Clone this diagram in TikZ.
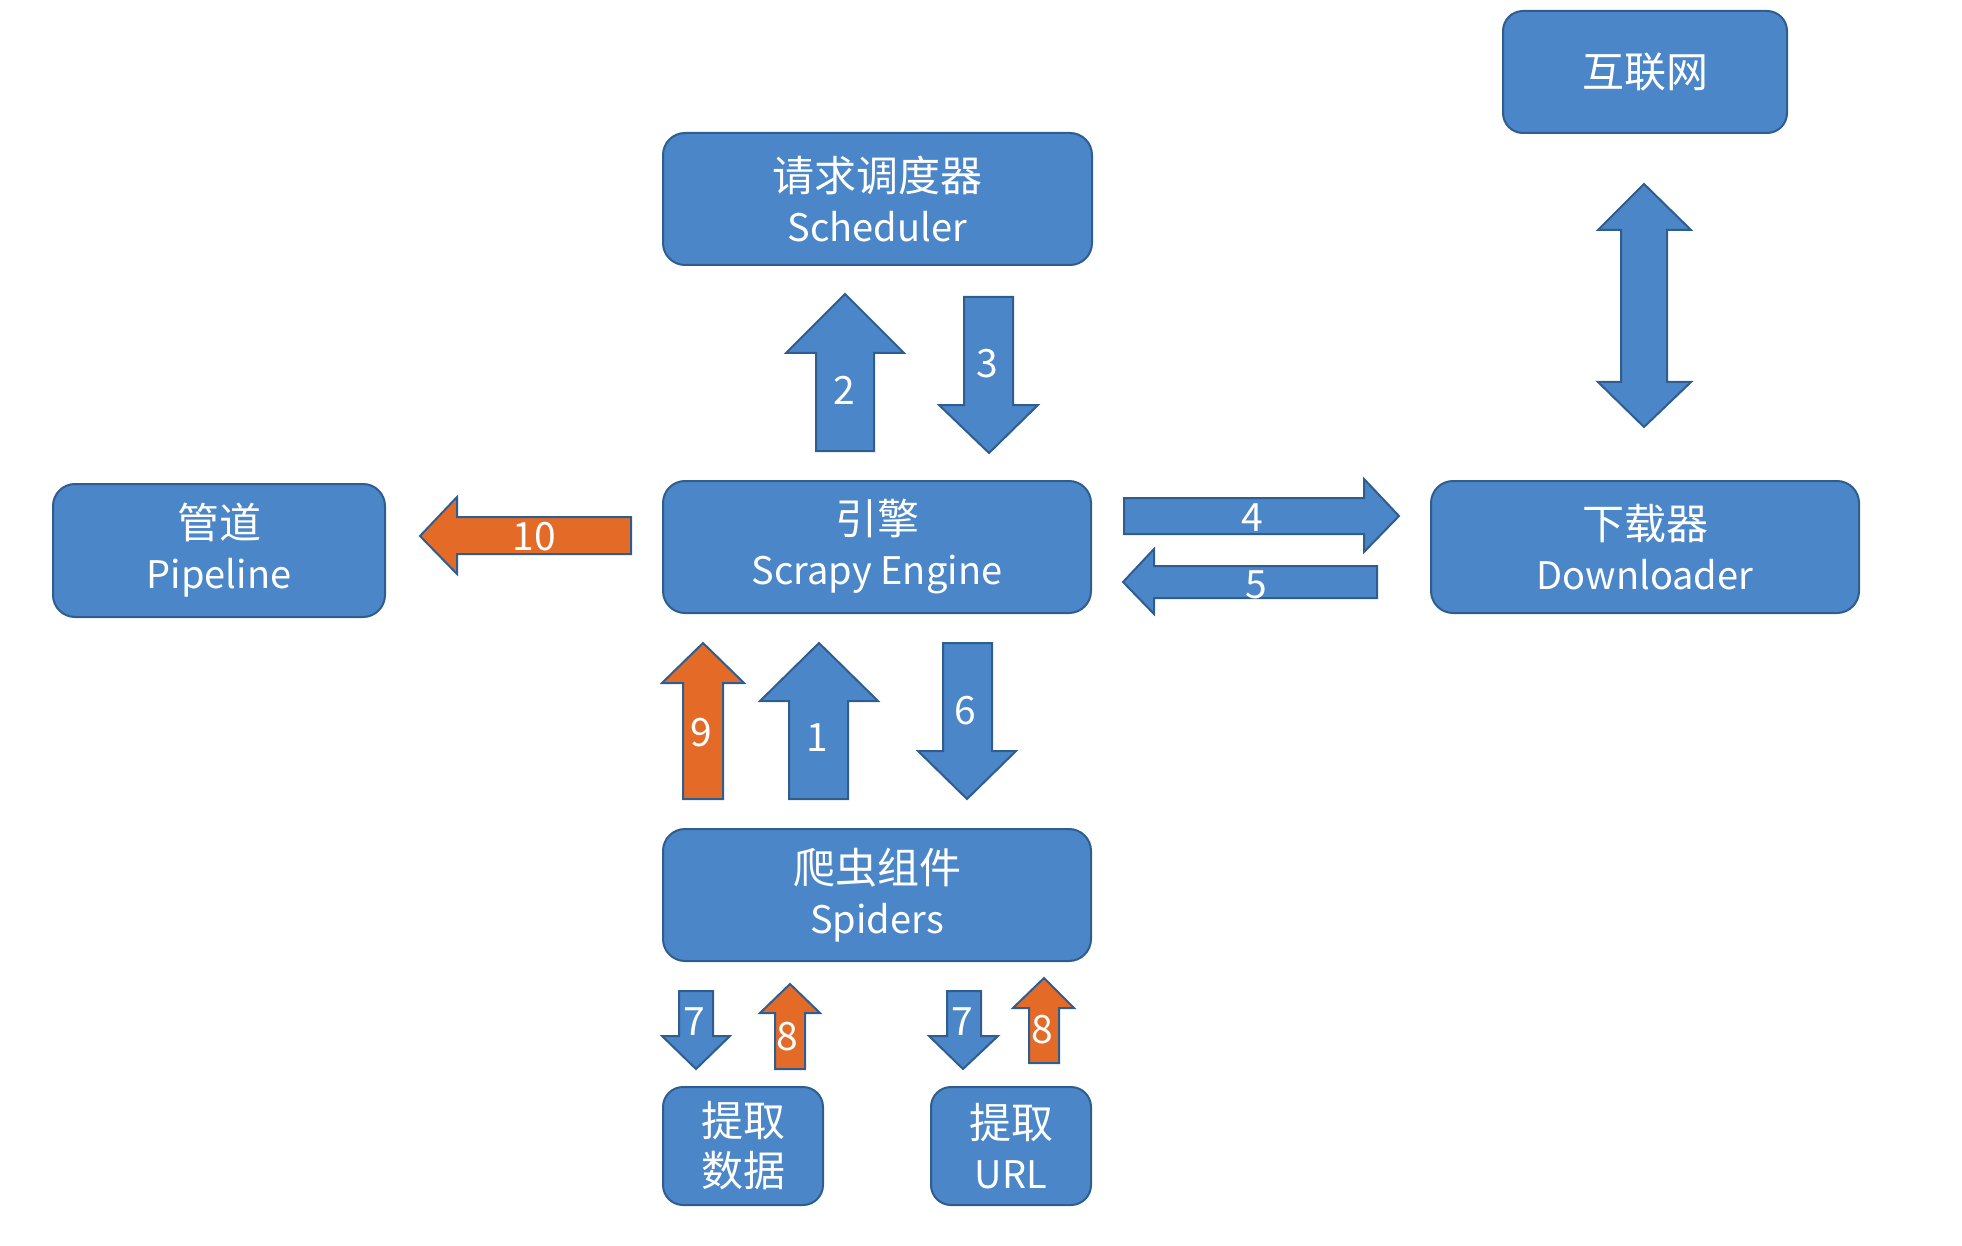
\documentclass[tikz,border=0pt]{standalone}
\usepackage{fontspec}
\newfontfamily\cjk{Noto Sans CJK SC}
\definecolor{boxblue}{HTML}{4A86C8}
\definecolor{edgeblue}{HTML}{2F5D8E}
\definecolor{arrorange}{HTML}{E46A28}
\newcommand\zh[1]{{\fontsize{42}{50}\selectfont #1}}
\tikzset{
  box/.style={draw=edgeblue, line width=2pt, fill=boxblue, rounded corners=22pt,
    text=white, align=center, font=\cjk\fontsize{38}{50}\selectfont, inner sep=0pt},
  blk/.style={draw=edgeblue, line width=2pt, fill=boxblue, line join=miter},
  blko/.style={draw=edgeblue, line width=2pt, fill=arrorange, line join=miter},
  num/.style={text=white, font=\cjk\fontsize{39}{46}\selectfont, inner sep=0pt}
}
% up arrow: style, sl, sr, wl, wr, tipx, tipy, basey, bottomy
\newcommand\myuparw[9]{\draw[#1] (#2,#9) -- (#2,#8) -- (#4,#8) -- (#6,#7) -- (#5,#8) -- (#3,#8) -- (#3,#9) -- cycle;}
% down arrow: style, sl, sr, wl, wr, tipx, topy, basey, tipy
\newcommand\mydownarw[9]{\draw[#1] (#2,#7) -- (#2,#8) -- (#4,#8) -- (#6,#9) -- (#5,#8) -- (#3,#8) -- (#3,#7) -- cycle;}
\begin{document}
\begin{tikzpicture}[x=1pt,y=-1pt]
\useasboundingbox (0,0) rectangle (1962,1246);
% boxes
\node[box, minimum width=429pt, minimum height=132pt] (sched) at (877.5,199) {\zh{请求调度器}\\Scheduler};
\node[box, minimum width=284pt, minimum height=122pt, rounded corners=20pt] (inet) at (1645,72) {\zh{互联网}};
\node[box, minimum width=428pt, minimum height=132pt] (engine) at (877,547) {\zh{引擎}\\Scrapy Engine};
\node[box, minimum width=332pt, minimum height=133pt] (pipe) at (219,550.5) {\zh{管道}\\Pipeline};
\node[box, minimum width=428pt, minimum height=132pt] (down) at (1645,547) {\zh{下载器}\\Downloader};
\node[box, minimum width=428pt, minimum height=132pt] (spiders) at (877,895) {\zh{爬虫组件}\\Spiders};
\node[box, minimum width=160pt, minimum height=118pt, rounded corners=20pt] (data) at (743,1146) {\zh{提取}\\\zh{数据}};
\node[box, minimum width=160pt, minimum height=118pt, rounded corners=20pt] (url) at (1011,1146) {\zh{提取}\\URL};
% double arrow internet-downloader
\draw[blk] (1644,184) -- (1691,230) -- (1667,230) -- (1667,382) -- (1691,382) -- (1644,427)
  -- (1598,382) -- (1621,382) -- (1621,230) -- (1598,230) -- cycle;
% arrows 2 and 3
\myuparw{blk}{816}{874}{786}{904}{845}{294}{353}{451}
\node[num] (n2) at (844,390) {2};
\mydownarw{blk}{964}{1013}{939}{1038}{989}{297}{405}{453}
\node[num] (n3) at (987,364) {3};
% arrow 10
\draw[blko] (631,517) -- (457,517) -- (457,497) -- (420,536) -- (457,574) -- (457,554) -- (631,554) -- cycle;
\node[num] (n10) at (534,537) {10};
% arrow 4
\draw[blk] (1124,498) -- (1364,498) -- (1364,479) -- (1399,516) -- (1364,552) -- (1364,534) -- (1124,534) -- cycle;
\node[num] (n4) at (1252,518) {4};
% arrow 5
\draw[blk] (1377,566) -- (1154,566) -- (1154,549) -- (1123,582) -- (1154,614) -- (1154,598) -- (1377,598) -- cycle;
\node[num] (n5) at (1256,585) {5};
% arrows 9, 1, 6
\myuparw{blko}{683}{723}{662}{744}{703}{643}{683}{799}
\node[num] (n9) at (701,733) {9};
\myuparw{blk}{789}{848}{760}{878}{819}{643}{701}{799}
\node[num] (n1) at (817,738) {1};
\mydownarw{blk}{943}{992}{918}{1016}{967}{643}{751}{799}
\node[num] (n6) at (965,711) {6};
% arrows 7 and 8
\mydownarw{blk}{679}{713}{662}{730}{696}{991}{1036}{1069}
\node[num] (n7a) at (694,1022) {7};
\myuparw{blko}{775}{805}{760}{820}{790}{984}{1013}{1069}
\node[num] (n8a) at (787,1037) {8};
\mydownarw{blk}{947}{981}{929}{998}{963}{991}{1036}{1069}
\node[num] (n7b) at (962,1022) {7};
\myuparw{blko}{1029}{1059}{1013}{1074}{1044}{978}{1008}{1063}
\node[num] (n8b) at (1042,1030) {8};
\end{tikzpicture}
\end{document}
